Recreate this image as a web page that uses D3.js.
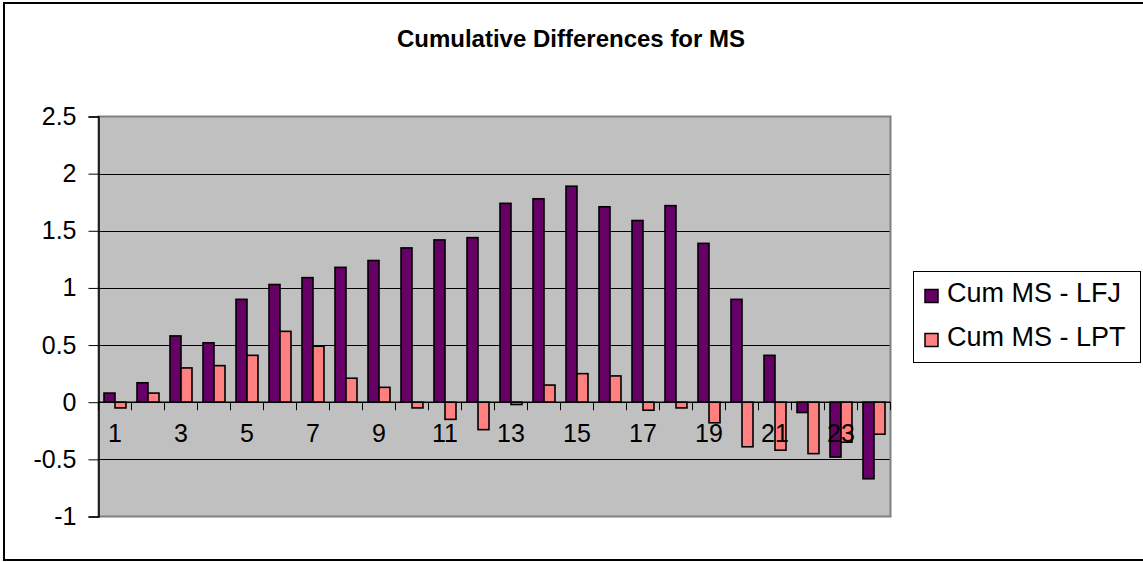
<!DOCTYPE html>
<html>
<head>
<meta charset="utf-8">
<script src="https://cdn.jsdelivr.net/npm/d3@7"></script>
<style>
  html, body { margin: 0; padding: 0; background: #ffffff; }
  svg { display: block; font-family: "Liberation Sans", Arial, sans-serif; }
</style>
</head>
<body>
<svg id="chart" width="1143" height="562"></svg>
<script>
// Chart data
const categories = ["1","2","3","4","5","6","7","8","9","10","11","12",
                    "13","14","15","16","17","18","19","20","21","22","23","24"];
const seriesNames = ["Cum MS - LFJ", "Cum MS - LPT"];
const cumLFJ = [0.08, 0.17, 0.58, 0.52, 0.90, 1.03, 1.09, 1.18, 1.24, 1.35, 1.42, 1.44,
                1.74, 1.78, 1.89, 1.71, 1.59, 1.72, 1.39, 0.90, 0.41, -0.09, -0.48, -0.67];
const cumLPT = [-0.05, 0.08, 0.30, 0.32, 0.41, 0.62, 0.49, 0.21, 0.13, -0.05, -0.15, -0.24,
                -0.02, 0.15, 0.25, 0.23, -0.07, -0.05, -0.18, -0.39, -0.42, -0.45, -0.35, -0.28];
const yTickValues = [-1, -0.5, 0, 0.5, 1, 1.5, 2, 2.5];
const yTickLabels = ["-1", "-0.5", "0", "0.5", "1", "1.5", "2", "2.5"];
const xLabelled = ["1","3","5","7","9","11","13","15","17","19","21","23"];
const seriesColors = ["#660066", "#FF8080"];
const chartTitle = "Cumulative Differences for MS";

const rows = categories.map((c, i) => ({ cat: c, values: [cumLFJ[i], cumLPT[i]] }));

const svg = d3.select("#chart");

// Outer chart frame
svg.append("rect")
  .attr("x", 4).attr("y", 3).attr("width", 1150).attr("height", 557)
  .attr("fill", "#ffffff").attr("stroke", "#000000").attr("stroke-width", 2);

// Plot area geometry
const plot = { left: 98.5, right: 890.5, top: 116.5, bottom: 516.5 };

const x = d3.scaleBand().domain(categories).range([plot.left, plot.right]).padding(0);
const bw = x.bandwidth();
const x1 = d3.scaleBand().domain(seriesNames).range([bw / 6, bw * 5 / 6]).padding(0);
const y = d3.scaleLinear().domain([-1, 2.5]).range([plot.bottom, plot.top]);
const color = d3.scaleOrdinal().domain(seriesNames).range(seriesColors);

// Title
svg.append("text")
  .attr("x", 571).attr("y", 47)
  .attr("text-anchor", "middle")
  .attr("font-weight", "bold").attr("font-size", 24)
  .attr("fill", "#000")
  .text(chartTitle);

// Plot background
svg.append("rect")
  .attr("x", plot.left).attr("y", plot.top)
  .attr("width", plot.right - plot.left).attr("height", plot.bottom - plot.top)
  .attr("fill", "#C0C0C0");

// Horizontal gridlines
svg.append("g")
  .selectAll("line")
  .data(yTickValues.filter(v => v !== 0 && v !== -1 && v !== 2.5))
  .join("line")
  .attr("x1", plot.left).attr("x2", plot.right)
  .attr("y1", d => Math.round(y(d)) + 0.5).attr("y2", d => Math.round(y(d)) + 0.5)
  .attr("stroke", "#000").attr("stroke-width", 1);

// Plot border
svg.append("rect")
  .attr("x", plot.left).attr("y", plot.top)
  .attr("width", plot.right - plot.left).attr("height", plot.bottom - plot.top)
  .attr("fill", "none").attr("stroke", "#808080").attr("stroke-width", 2);

// Bars
const groups = svg.append("g")
  .selectAll("g")
  .data(rows)
  .join("g")
  .attr("transform", d => `translate(${x(d.cat)},0)`);

groups.selectAll("rect")
  .data(d => d.values.map((v, i) => ({ name: seriesNames[i], value: v })))
  .join("rect")
  .attr("x", d => x1(d.name))
  .attr("width", x1.bandwidth())
  .attr("y", d => y(Math.max(0, d.value)))
  .attr("height", d => Math.abs(y(d.value) - y(0)))
  .attr("fill", d => color(d.name))
  .attr("stroke", "#000").attr("stroke-width", 1.6);

// Value axis (left)
const yAxis = d3.axisLeft(y)
  .tickValues(yTickValues)
  .tickFormat((d, i) => yTickLabels[i])
  .tickSize(10).tickPadding(12);

const gy = svg.append("g")
  .attr("transform", `translate(${plot.left},0)`)
  .call(yAxis);
gy.select(".domain").attr("stroke", "#000").attr("stroke-width", 1.5);
gy.selectAll(".tick line").attr("stroke", "#000");
gy.selectAll("text")
  .attr("font-size", 25).attr("font-family", "'Liberation Sans', Arial, sans-serif")
  .attr("fill", "#000");

// Category axis along zero
const y0 = y(0);
svg.append("line")
  .attr("x1", plot.left).attr("x2", plot.right)
  .attr("y1", y0).attr("y2", y0)
  .attr("stroke", "#000").attr("stroke-width", 1.5);

const boundaries = categories.map(c => x(c)).concat([plot.right]);
svg.append("g")
  .selectAll("line")
  .data(boundaries)
  .join("line")
  .attr("x1", d => d).attr("x2", d => d)
  .attr("y1", y0).attr("y2", y0 + 8)
  .attr("stroke", "#000").attr("stroke-width", 1);

svg.append("g")
  .selectAll("text")
  .data(xLabelled)
  .join("text")
  .attr("x", d => x(d) + bw / 2)
  .attr("y", y0 + 40)
  .attr("text-anchor", "middle")
  .attr("font-size", 25)
  .attr("fill", "#000")
  .text(d => d);

// Legend
const legend = svg.append("g");
legend.append("rect")
  .attr("x", 913.5).attr("y", 271.5).attr("width", 227).attr("height", 91)
  .attr("fill", "#fff").attr("stroke", "#000").attr("stroke-width", 1);

const items = legend.selectAll("g.item")
  .data(seriesNames)
  .join("g")
  .attr("class", "item")
  .attr("transform", (d, i) => `translate(0,${i * 44})`);

items.append("rect")
  .attr("x", 925).attr("y", 289.5).attr("width", 13).attr("height", 13)
  .attr("fill", d => color(d))
  .attr("stroke", "#000").attr("stroke-width", 1.5);

items.append("text")
  .attr("x", 947).attr("y", 302)
  .attr("font-size", 27)
  .attr("fill", "#000")
  .text(d => d);
</script>
</body>
</html>
